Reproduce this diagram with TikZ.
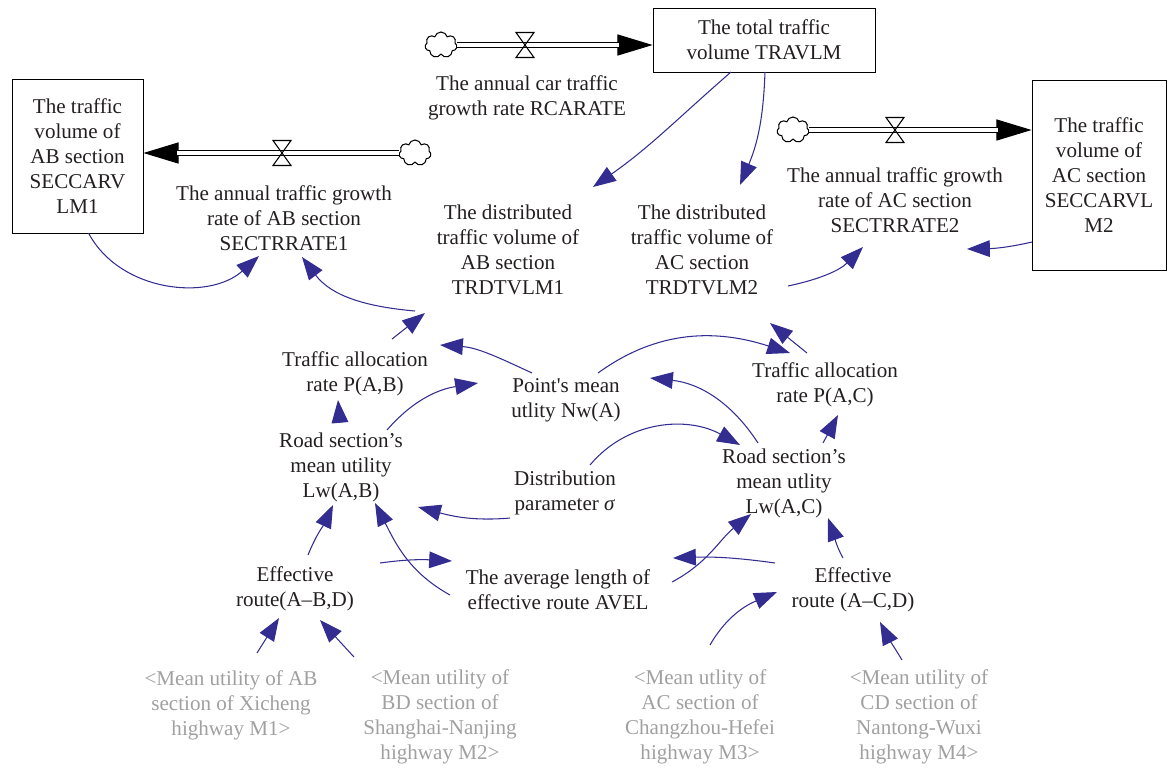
\documentclass[tikz,border=0pt]{standalone}
\usepackage{fontspec}
\setmainfont{Liberation Serif}
\usepackage{xcolor}
\usetikzlibrary{arrows.meta}
\usetikzlibrary{shapes.symbols}
\definecolor{linkblue}{RGB}{51,45,145}
\definecolor{inktext}{RGB}{35,31,32}
\definecolor{shadowgray}{RGB}{160,160,160}

\begin{document}
\begin{tikzpicture}[x=0.02cm, y=-0.02cm,
    font=\fontsize{12}{14.2}\selectfont, text=inktext,
    var/.style={align=center, inner sep=1pt},
    shadow/.style={var, text=shadowgray},
    stock/.style={draw, line width=0.5pt, align=center},
    source/.style={cloud, cloud puffs=7, aspect=1.2, draw, line width=0.6pt,
        minimum width=0.64cm, minimum height=0.52cm, inner sep=0pt},
    link/.style={draw=linkblue, line width=0.6pt, -{Triangle[length=13pt,width=9.5pt]}},
    flowtip/.style={line width=0.6pt, -{Triangle[length=20pt,width=12pt]}},
    pipe/.style={double, double distance=2.4pt, line width=0.6pt, shorten >=19pt},
    valve/.style={line width=0.6pt}]
    \useasboundingbox (0,0) rectangle (1167,769);

    % stocks and flows
    \node[stock, minimum width=4.44cm, minimum height=1.28cm] (TRAVLM) at (764,40) {The total traffic\\volume TRAVLM};
    \node[stock, minimum width=2.62cm, minimum height=3.08cm] (S1) at (77.5,156) {The traffic\\volume of\\AB section\\SECCARV\\LM1};
    \node[stock, minimum width=2.68cm, minimum height=3.8cm] (S2) at (1099,175) {The traffic\\volume of\\AC section\\SECCARVL\\M2};
    \node[source] (C0) at (441,45) {};
    \node[source] (C1) at (415,153) {};
    \node[source] (C2) at (793,130) {};
    \coordinate (V0) at (525,45);
    \coordinate (V1) at (282,153);
    \coordinate (V2) at (895,130);

    \draw[flowtip] (C0.east) -- (C0.east -| TRAVLM.west);
    \draw[pipe] (C0.east) -- (C0.east -| TRAVLM.west);
    \draw[flowtip] (C1.west) -- (C1.west -| S1.east);
    \draw[pipe] (C1.west) -- (C1.west -| S1.east);
    \draw[flowtip] (C2.east) -- (C2.east -| S2.west);
    \draw[pipe] (C2.east) -- (C2.east -| S2.west);
    \foreach \v in {V0,V1,V2}
        \draw[valve] ([shift={(-9,-12.5)}]\v) -- ([shift={(9,-12.5)}]\v)
            -- ([shift={(-9,12.5)}]\v) -- ([shift={(9,12.5)}]\v) -- cycle;

    % variables
    \node[var] (RC) at (527,98) {The annual car traffic\\growth rate RCARATE};
    \node[var] (R1) at (284,218) {The annual traffic growth\\rate of AB section\\SECTRRATE1};
    \node[var] (R2) at (895,200) {The annual traffic growth\\rate of AC section\\SECTRRATE2};
    \node[var] (DV1) at (508,250) {The distributed\\traffic volume of\\AB section\\TRDTVLM1};
    \node[var] (DV2) at (702,250) {The distributed\\traffic volume of\\AC section\\TRDTVLM2};
    \node[var] (PAB) at (355,374) {Traffic allocation\\rate P(A,B)};
    \node[var] (Nw) at (566,400) {Point\textquotesingle s mean\\utlity Nw(A)};
    \node[var] (PAC) at (825,385) {Traffic allocation\\rate P(A,C)};
    \node[var] (LwAB) at (341,467) {Road section’s\\mean utility\\Lw(A,B)};
    \node[var] (Sig) at (565,493) {Distribution\\parameter \textit{σ}};
    \node[var] (LwAC) at (784,483) {Road section’s\\mean utlity\\Lw(A,C)};
    \node[var] (EAB) at (295,589) {Effective\\route(A–B,D)};
    \node[var] (AVEL) at (558,590) {The average length of\\effective route AVEL};
    \node[var] (EAC) at (853,590) {Effective\\route (A–C,D)};
    \node[shadow] (M1) at (231,705) {<Mean utility of AB\\section of Xicheng\\highway M1>};
    \node[shadow] (M2) at (440,717) {<Mean utility of\\BD section of\\Shanghai-Nanjing\\highway M2>};
    \node[shadow] (M3) at (700,717) {<Mean utlity of\\AC section of\\Changzhou-Hefei\\highway M3>};
    \node[shadow] (M4) at (919,717) {<Mean utility of\\CD section of\\Nantong-Wuxi\\highway M4>};

    % causal links
    \draw[link] ([shift={(-33,32)}]TRAVLM.center) to[out=221,in=35] ([shift={(85,-63)}]DV1.center);
    \draw[link] ([shift={(1,32)}]TRAVLM.center) to[out=268,in=67] ([shift={(38,-65)}]DV2.center);
    \draw[link] ([shift={(11,77)}]S1.center) to[out=298,in=222] ([shift={(-25,38)}]R1.center);
    \draw[link] ([shift={(-93,61)}]DV1.center) to[out=175,in=307] ([shift={(18,39)}]R1.center);
    \draw[link] ([shift={(37,-35)}]PAB.center) -- ([shift={(-83,63)}]DV1.center);
    \draw[link] ([shift={(-34,-27)}]Nw.center) to[out=155,in=-4] ([shift={(85,-29)}]PAB.center);
    \draw[link] ([shift={(46,-37)}]LwAB.center) to[out=49,in=189] ([shift={(-88,-17)}]Nw.center);
    \draw[link] ([shift={(-1,-44)}]LwAB.center) -- ([shift={(-17,26)}]PAB.center);
    \draw[link] ([shift={(32,-27)}]Nw.center) to[out=36,in=162] ([shift={(-35,-32)}]PAC.center);
    \draw[link] ([shift={(-18,-32)}]PAC.center) -- ([shift={(68,73)}]DV2.center);
    \draw[link] ([shift={(-26,-40)}]LwAC.center) to[out=123,in=-6] ([shift={(84,-22)}]Nw.center);
    \draw[link] ([shift={(39,-40)}]LwAC.center) -- ([shift={(13,30)}]PAC.center);
    \draw[link] ([shift={(25,-28)}]Sig.center) to[out=50,in=151] ([shift={(-44,-38)}]LwAC.center);
    \draw[link] ([shift={(-55,25)}]Sig.center) to[out=185,in=-15] ([shift={(77,40)}]LwAB.center);
    \draw[link] ([shift={(13,-34)}]EAB.center) to[out=68,in=245] ([shift={(-8,38)}]LwAB.center);
    \draw[link] ([shift={(-108,5)}]AVEL.center) to[out=151,in=297] ([shift={(34,36)}]LwAB.center);
    \draw[link] ([shift={(85,-26)}]EAB.center) to[out=8,in=177] ([shift={(-106,-29)}]AVEL.center);
    \draw[link] ([shift={(26,-52)}]M1.center) -- ([shift={(-16,29)}]EAB.center);
    \draw[link] ([shift={(-86,-60)}]M2.center) -- ([shift={(25,31)}]EAB.center);
    \draw[link] ([shift={(-78,-27)}]EAC.center) to[out=172,in=2] ([shift={(115,-32)}]AVEL.center);
    \draw[link] ([shift={(114,-8)}]AVEL.center) to[out=28,in=219] ([shift={(-33,31)}]LwAC.center);
    \draw[link] ([shift={(-10,-32)}]EAC.center) to[out=119,in=290] ([shift={(44,35)}]LwAC.center);
    \draw[link] ([shift={(10,-72)}]M3.center) to[out=60,in=203] ([shift={(-76,2)}]EAC.center);
    \draw[link] ([shift={(-17,-57)}]M4.center) to[out=121,in=297] ([shift={(27,32)}]EAC.center);
    \draw[link] ([shift={(86,36)}]DV2.center) to[out=12,in=225] ([shift={(-32,47)}]R2.center);
    \draw[link] ([shift={(-67,67)}]S2.center) to[out=193,in=1] ([shift={(72,49)}]R2.center);
\end{tikzpicture}
\end{document}
